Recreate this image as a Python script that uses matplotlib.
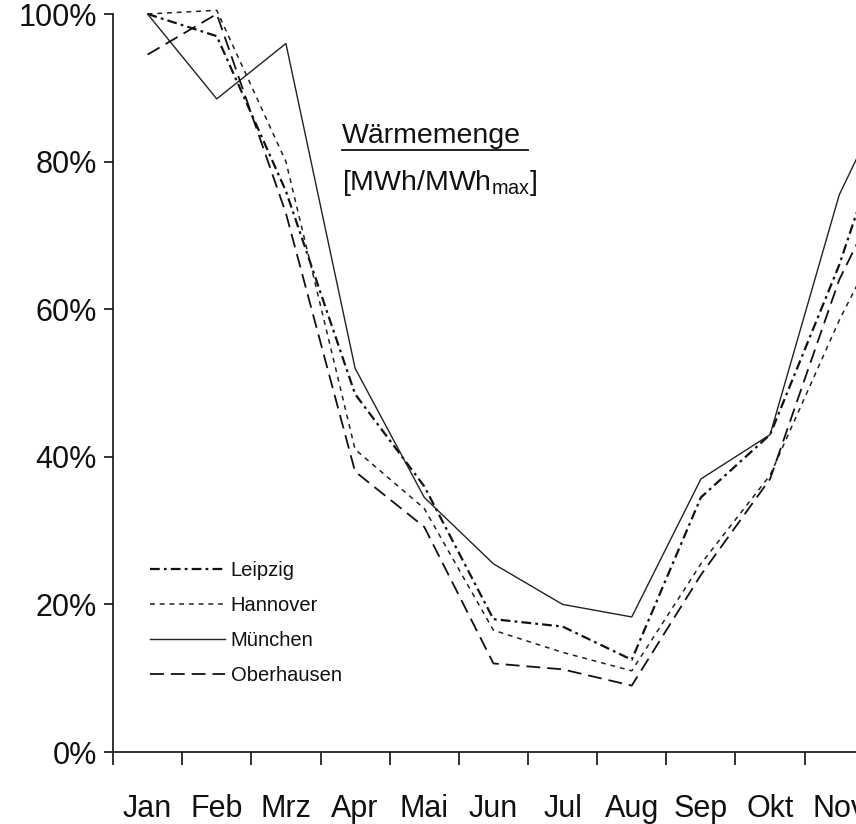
import matplotlib
matplotlib.use('Agg')
import matplotlib.pyplot as plt
from matplotlib.lines import Line2D

plt.rcParams['font.family'] = ['Liberation Sans', 'DejaVu Sans']
plt.rcParams['mathtext.fontset'] = 'custom'
plt.rcParams['mathtext.rm'] = 'Liberation Sans'
plt.rcParams['lines.scale_dashes'] = False

months = ['Jan', 'Feb', 'Mrz', 'Apr', 'Mai', 'Jun', 'Jul', 'Aug', 'Sep', 'Okt', 'Nov', 'Dez']
y_ticks = [0, 20, 40, 60, 80, 100]
y_labels = ['0%', '20%', '40%', '60%', '80%', '100%']

# monthly heat demand, % of max month
leipzig = [100, 97, 76, 48.5, 36, 18, 17, 12.5, 34.5, 43, 66, 94]
hannover = [100, 100.5, 80, 41, 33, 16.5, 13.5, 11, 25.5, 37.5, 58.5, 77]
muenchen = [100, 88.5, 96, 52, 34.5, 25.5, 20, 18.3, 37, 43, 75.5, 95]
oberhausen = [94.5, 100, 73, 38, 30.5, 12, 11.2, 9, 24, 37, 64, 83]

series = [
    ('Leipzig', leipzig, dict(color='#111111', lw=1.6, dashes=(7, 3, 2, 3))),
    ('Hannover', hannover, dict(color='#222222', lw=1.1, dashes=(3.5, 3.5))),
    ('München', muenchen, dict(color='#222222', lw=1.0, linestyle='-')),
    ('Oberhausen', oberhausen, dict(color='#111111', lw=1.3, dashes=(10, 5))),
]

fig = plt.figure(figsize=(8.56, 8.24), dpi=100)
ax = fig.add_axes([113 / 856, 72 / 824, 830 / 856, 738 / 824])

x = list(range(1, len(months) + 1))
for name, vals, style in series:
    ax.plot(x, vals, label=name, clip_on=False, **style)

ax.set_xlim(0.5, 12.5)
ax.set_ylim(0, 100)

ax.spines['top'].set_visible(False)
ax.spines['right'].set_visible(False)
for s in ['left', 'bottom']:
    ax.spines[s].set_linewidth(1.2)
    ax.spines[s].set_color('#111111')

ax.set_yticks(y_ticks)
ax.set_yticklabels(y_labels)
ax.tick_params(axis='y', direction='out', length=6.5, width=1.2, pad=5,
               labelsize=22, colors='#111111')

ax.set_xticks([i + 0.5 for i in range(len(months))])
ax.set_xticklabels([])
ax.set_xticks(x, minor=True)
ax.set_xticklabels(months, minor=True)
ax.tick_params(axis='x', which='major', direction='out', length=9, width=1.2,
               colors='#111111')
ax.tick_params(axis='x', which='minor', length=0, pad=30, labelsize=22,
               colors='#111111')

# title block
fig.text(342 / 856, 1 - 143 / 824, 'Wärmemenge', fontsize=20.5, color='#111111',
         ha='left', va='baseline')
fig.add_artist(Line2D([342 / 856, 528 / 856], [1 - 150 / 824, 1 - 150 / 824],
                      color='#111111', lw=1.3))
fig.text(342 / 856, 1 - 190 / 824, r'[MWh/MWh$_{\mathregular{max}}$]', fontsize=20.5,
         color='#111111', ha='left', va='baseline')

leg = ax.legend(loc='upper left', bbox_to_anchor=(150 / 856, 1 - 561 / 824),
                bbox_transform=fig.transFigure, frameon=False, borderpad=0,
                borderaxespad=0, handlelength=3.7, handletextpad=0.3,
                labelspacing=0.8, fontsize=14.5)
for t in leg.get_texts():
    t.set_color('#111111')

fig.savefig('out.png', dpi=100)
